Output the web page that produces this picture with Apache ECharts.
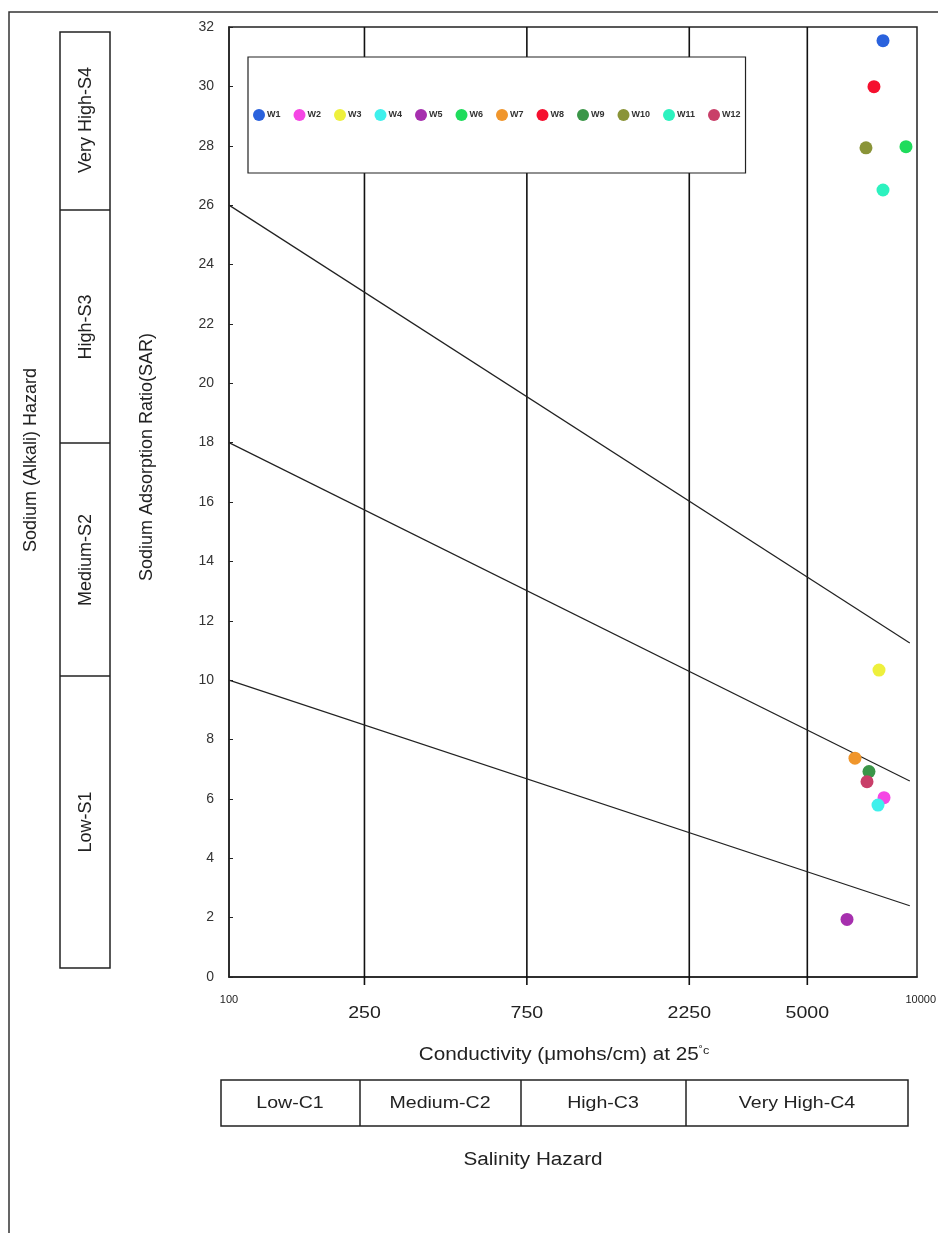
<!DOCTYPE html>
<html>
<head>
<meta charset="utf-8">
<script src="https://cdn.jsdelivr.net/npm/echarts@6/dist/echarts.min.js"></script>
<style>
html,body{margin:0;padding:0;background:#fff;overflow:hidden;}
#chart{width:938px;height:1233px;}
</style>
</head>
<body>
<div id="chart"></div>
<script>
// ---- data ----
const wellNames = ['W1','W2','W3','W4','W5','W6','W7','W8','W9','W10','W11','W12'];
const wellEC  = [8343, 8400, 8120, 8066, 6540, 9746, 6902, 7848, 7588, 7435, 8343, 7487];
const wellSAR = [31.54, 6.04, 10.34, 5.79, 1.94, 27.97, 7.37, 29.99, 6.92, 27.93, 26.51, 6.58];
const wellColors = ['#2a62dd','#f546e4','#eef03c','#3ef0ec','#a62fae','#1fdc5c','#f0962c','#f5102f','#3a9648','#8a9438','#2cf2bf','#c93f69'];
const classBoundsEC = [250, 750, 2250, 5000];
const hazardLineStart = [100, [26, 18, 10]];
const hazardLineEnd = [10000, [11.25, 6.6, 2.4]];
const sodiumClasses = ['Very High-S4','High-S3','Medium-S2','Low-S1'];
const salinityClasses = ['Low-C1','Medium-C2','High-C3','Very High-C4'];
const yTicks = {min: 0, max: 32, interval: 2};
const xEdgeLabels = [100, 10000];

const FONT = 'Liberation Sans, Arial, sans-serif';
const SX = 1.15; // horizontal stretch of the original figure's text
const chart = echarts.init(document.getElementById('chart'));

const series = [];
// hazard division lines
for (let i = 0; i < 3; i++) {
  series.push({
    type: 'line', silent: true, symbol: 'none',
    data: [[hazardLineStart[0], hazardLineStart[1][i]], [hazardLineEnd[0], hazardLineEnd[1][i]]],
    lineStyle: {color: '#222', width: 1.2},
    z: 3
  });
}
// vertical class boundaries with labels
series.push({
  type: 'custom', silent: true, clip: false,
  data: classBoundsEC.map(v => [v, 0]),
  encode: {x: 0, y: 1},
  renderItem: function (params, api) {
    const v = api.value(0);
    const top = api.coord([v, yTicks.max]);
    const bot = api.coord([v, yTicks.min]);
    return {
      type: 'group',
      children: [
        {type: 'line', shape: {x1: bot[0], y1: bot[1] + 8, x2: top[0], y2: top[1]},
         style: {stroke: '#111', lineWidth: 1.6}},
        {type: 'text', x: bot[0], y: bot[1] + 36, scaleX: SX,
         style: {text: String(v), fontSize: 17, fontFamily: FONT, fill: '#222', align: 'center', verticalAlign: 'middle'}}
      ]
    };
  },
  z: 2
});
// wells
wellNames.forEach((n, i) => {
  series.push({
    name: n, type: 'scatter', symbolSize: 13,
    data: [[wellEC[i], wellSAR[i]]],
    itemStyle: {color: wellColors[i], opacity: 1},
    z: 5
  });
});

const tb = (text, x, y, rot, size, sx) => ({
  type: 'text', x: x, y: y, rotation: rot || 0, scaleX: sx || 1,
  style: {text: text, fontSize: size || 18, fontFamily: FONT, fill: '#222', align: 'center', verticalAlign: 'middle'}
});
const R = Math.PI / 2;

const graphic = [
  {type: 'rect', shape: {x: 9, y: 12, width: 960, height: 1260}, style: {fill: 'none', stroke: '#333', lineWidth: 1.5}, silent: true},
  // sodium hazard box
  {type: 'rect', shape: {x: 60, y: 32, width: 50, height: 936}, style: {fill: 'none', stroke: '#222', lineWidth: 1.5}},
  {type: 'line', shape: {x1: 60, y1: 210, x2: 110, y2: 210}, style: {stroke: '#222', lineWidth: 1.5}},
  {type: 'line', shape: {x1: 60, y1: 443, x2: 110, y2: 443}, style: {stroke: '#222', lineWidth: 1.5}},
  {type: 'line', shape: {x1: 60, y1: 676, x2: 110, y2: 676}, style: {stroke: '#222', lineWidth: 1.5}},
  tb(sodiumClasses[0], 86, 120, R),
  tb(sodiumClasses[1], 86, 327, R),
  tb(sodiumClasses[2], 86, 560, R),
  tb(sodiumClasses[3], 86, 822, R),
  tb('Sodium (Alkali) Hazard', 31, 460, R),
  tb('Sodium Adsorption Ratio(SAR)', 147, 457, R),
  // conductivity title
  {type: 'text', x: 564, y: 1055, scaleX: SX,
   style: {text: '{a|Conductivity (μmohs/cm) at 25}{s|˚c}', align: 'center', verticalAlign: 'middle',
     rich: {a: {fontSize: 18, fill: '#222', fontFamily: FONT}, s: {fontSize: 11, fill: '#222', fontFamily: FONT, verticalAlign: 'top', padding: [0, 0, 9, 0]}}}},
  // salinity hazard box
  {type: 'rect', shape: {x: 221, y: 1080, width: 687, height: 46}, style: {fill: 'none', stroke: '#222', lineWidth: 1.5}},
  {type: 'line', shape: {x1: 360, y1: 1080, x2: 360, y2: 1126}, style: {stroke: '#222', lineWidth: 1.5}},
  {type: 'line', shape: {x1: 521, y1: 1080, x2: 521, y2: 1126}, style: {stroke: '#222', lineWidth: 1.5}},
  {type: 'line', shape: {x1: 686, y1: 1080, x2: 686, y2: 1126}, style: {stroke: '#222', lineWidth: 1.5}},
  tb(salinityClasses[0], 290, 1103, 0, 17, SX),
  tb(salinityClasses[1], 440, 1103, 0, 17, SX),
  tb(salinityClasses[2], 603, 1103, 0, 17, SX),
  tb(salinityClasses[3], 797, 1103, 0, 17, SX),
  tb('Salinity Hazard', 533, 1160, 0, 18, SX)
];

chart.setOption({
  backgroundColor: '#fff',
  animation: false,
  textStyle: {fontFamily: FONT},
  grid: {left: 229, right: 21, top: 27, bottom: 256, containLabel: false, outerBoundsMode: 'none',
         show: true, borderColor: '#222', borderWidth: 1.5, backgroundColor: 'transparent'},
  legend: {
    data: wellNames, left: 248, top: 57, orient: 'horizontal',
    padding: [52, 5, 52, 5], itemGap: 13, itemWidth: 12, itemHeight: 12, icon: 'circle',
    backgroundColor: '#fff', borderColor: '#222', borderWidth: 1.2,
    textStyle: {fontSize: 9, fontWeight: 'bold', color: '#333', fontFamily: FONT, padding: [0, 0, 0, -3]},
    selectedMode: false
  },
  xAxis: {
    type: 'log', logBase: 10, min: 100, max: 10500,
    axisLine: {show: true, lineStyle: {color: '#222', width: 1.5}},
    axisTick: {show: false}, splitLine: {show: false},
    axisLabel: {
      margin: 17, fontSize: 11, color: '#222', showMaxLabel: true, showMinLabel: true, hideOverlap: false,
      formatter: function (v) {
        const r = Math.round(v);
        if (r === xEdgeLabels[0]) return '{l|' + r + '}';
        if (r === xEdgeLabels[1]) return '{r|' + r + '}';
        return '';
      },
      rich: {l: {fontSize: 11, color: '#222'}, r: {fontSize: 11, color: '#222', padding: [0, 0, 0, 22]}}
    }
  },
  yAxis: {
    type: 'value', min: yTicks.min, max: yTicks.max, interval: yTicks.interval,
    axisLine: {show: true, lineStyle: {color: '#222', width: 1.5}},
    axisTick: {show: true, inside: true, length: 4, lineStyle: {color: '#222'}},
    splitLine: {show: false},
    axisLabel: {fontSize: 14, color: '#333', margin: 15}
  },
  graphic: graphic,
  series: series
});
</script>
</body>
</html>
